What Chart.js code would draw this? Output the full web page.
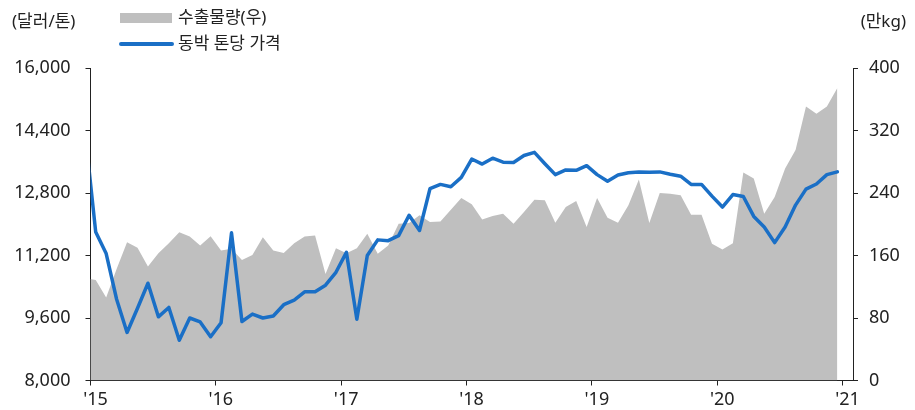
<!DOCTYPE html>
<html lang="ko">
<head>
<meta charset="utf-8">
<title>동박 톤당 가격과 수출물량</title>
<script src="https://cdn.jsdelivr.net/npm/chart.js@4"></script>
<style>
  html, body { margin: 0; padding: 0; background: #fff; }
  #wrap { width: 915px; height: 410px; }
</style>
</head>
<body>
<div id="wrap"><canvas id="foilChart" width="915" height="410"></canvas></div>
<script>
// monthly, Dec 2014 .. Dec 2020 (the Dec 2014 point sits left of the axis and is clipped)
const firstMonth = -1; // months counted from Jan 2015

// 동박 톤당 가격 (달러/톤)
const price = [
  14300,
  11800, 11250, 10080, 9230, 9850, 10490, 9630, 9870, 9030, 9600, 9500, 9120,
  9480, 11780, 9510, 9700, 9600, 9650, 9940, 10060, 10270, 10270, 10440, 10770,
  11280, 9570, 11200, 11600, 11580, 11710, 12230, 11840, 12910, 13020, 12960, 13200,
  13670, 13540, 13690, 13590, 13580, 13760, 13840, 13550, 13270, 13390, 13380, 13500,
  13270, 13100, 13260, 13320, 13340, 13330, 13340, 13280, 13230, 13020, 13020, 12720,
  12440, 12760, 12710, 12200, 11930, 11530, 11930, 12490, 12900, 13030, 13270, 13340
];

// 수출물량 (만kg)
const volume = [
  131,
  128.6, 106.3, 142.8, 177, 169.8, 145.8, 162.9, 175.8, 189.9, 184.4, 172.8, 184.8,
  166.3, 168.5, 154.3, 160.8, 183.5, 166.3, 163.3, 175.8, 184.4, 185.6, 136.3, 169.3,
  162.9, 169.3, 187.8, 162.1, 172.8, 200.6, 201.5, 211.4, 202.8, 203.6, 218.6, 233.7,
  225.5, 206.2, 210.5, 213.5, 200.6, 215.6, 231.5, 230.7, 201.9, 222.1, 229.8, 196.4,
  233.7, 208.4, 201.9, 224.2, 257.2, 201.5, 240.1, 239.2, 237.1, 212.2, 212.2, 174.9,
  167.6, 175.8, 266.2, 258.5, 213.5, 234.9, 271.4, 295, 350.7, 341.3, 350.7, 374.3
];

const seriesNames = ['수출물량(우)', '동박 톤당 가격'];
const yearTicks = [0, 12, 24, 36, 48, 60, 72];
const yearLabels = ["'15", "'16", "'17", "'18", "'19", "'20", "'21"];
const priceTicks = [8000, 9600, 11200, 12800, 14400, 16000];
const volumeTicks = [0, 80, 160, 240, 320, 400];

const lineColor = '#1a6fc6';
const areaColor = '#bfbfbf';
const inkColor = '#222';
const fontFamily = '"Noto Sans", "Noto Sans CJK KR", sans-serif';

// points sit in the middle of each month
const toPoints = arr => arr.map((v, i) => ({ x: firstMonth + i + 0.5, y: v }));

Chart.defaults.font.family = fontFamily;
Chart.defaults.color = inkColor;

// axis titles and the two-row legend at the top
const overlay = {
  id: 'overlay',
  afterDraw(chart) {
    const c = chart.ctx;
    c.save();
    c.font = '17px ' + fontFamily;
    c.fillStyle = inkColor;
    c.textBaseline = 'middle';
    c.textAlign = 'left';
    c.fillText('(달러/톤)', 12, 22);
    c.textAlign = 'right';
    c.fillText('(만kg)', 906, 22);

    c.fillStyle = areaColor;
    c.fillRect(120, 13, 52, 10);
    c.strokeStyle = lineColor;
    c.lineWidth = 4;
    c.lineCap = 'round';
    c.beginPath();
    c.moveTo(121, 44);
    c.lineTo(172, 44);
    c.stroke();

    c.fillStyle = inkColor;
    c.textAlign = 'left';
    c.fillText(seriesNames[0], 178, 18);
    c.fillText(seriesNames[1], 178, 44);
    c.restore();
  }
};

const axisTicks = { color: inkColor, font: { size: 18 } };
const axisGrid = { drawOnChartArea: false, drawTicks: true, tickLength: 5, color: inkColor };
const axisBorder = { display: true, color: inkColor, width: 1 };

new Chart(document.getElementById('foilChart').getContext('2d'), {
  type: 'line',
  data: {
    datasets: [{
      label: seriesNames[1],
      data: toPoints(price),
      yAxisID: 'y',
      borderColor: lineColor,
      borderWidth: 3.5,
      borderJoinStyle: 'round',
      borderCapStyle: 'round',
      pointRadius: 0,
      tension: 0,
      fill: false,
      clip: 0,
      order: 0
    }, {
      label: seriesNames[0],
      data: toPoints(volume),
      yAxisID: 'y1',
      borderWidth: 0,
      backgroundColor: areaColor,
      pointRadius: 0,
      tension: 0,
      fill: 'start',
      clip: 0,
      order: 1
    }]
  },
  options: {
    responsive: false,
    animation: false,
    layout: { padding: { top: 68, left: 0, right: 0, bottom: 0 } },
    plugins: { legend: { display: false }, tooltip: { enabled: false } },
    scales: {
      x: {
        type: 'linear',
        min: 0,
        max: 73,
        afterBuildTicks: s => { s.ticks = yearTicks.map(v => ({ value: v })); },
        afterFit: s => { s.height = 29.5; },
        ticks: { ...axisTicks, padding: 4, labelOffset: 5, maxRotation: 0, autoSkip: false,
                 callback: v => yearLabels[yearTicks.indexOf(v)] },
        grid: axisGrid,
        border: axisBorder
      },
      y: {
        position: 'left',
        min: 8000,
        max: 16000,
        afterBuildTicks: s => { s.ticks = priceTicks.map(v => ({ value: v })); },
        afterFit: s => { s.width = 90.5; },
        ticks: { ...axisTicks, padding: 15, callback: v => v.toLocaleString('en-US') },
        grid: axisGrid,
        border: axisBorder
      },
      y1: {
        position: 'right',
        min: 0,
        max: 400,
        afterBuildTicks: s => { s.ticks = volumeTicks.map(v => ({ value: v })); },
        afterFit: s => { s.width = 62; },
        ticks: { ...axisTicks, padding: 11 },
        grid: axisGrid,
        border: axisBorder
      }
    }
  },
  plugins: [overlay]
});
</script>
</body>
</html>
